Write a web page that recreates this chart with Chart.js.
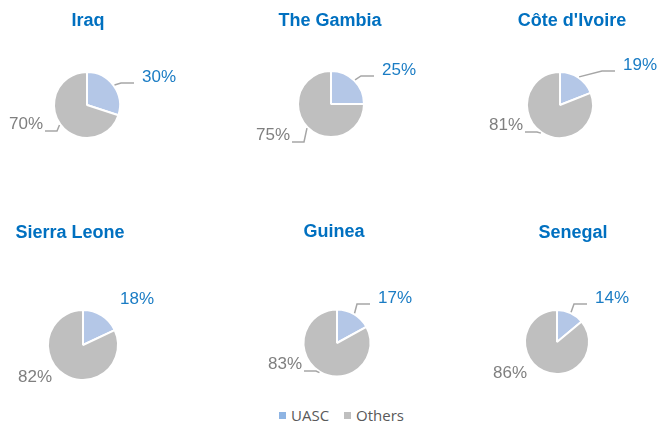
<!DOCTYPE html>
<html>
<head>
<meta charset="utf-8">
<script src="https://cdn.jsdelivr.net/npm/chart.js@4.4.0/dist/chart.umd.min.js"></script>
<style>
  html, body { margin: 0; padding: 0; background: #fff; }
  #page { position: relative; width: 659px; height: 422px; overflow: hidden; background: #fff; }
  #page canvas { position: absolute; }
  #legend { position: absolute; left: 279px; top: 405px; display: flex; align-items: center;
    font-family: "Open Sans", sans-serif; font-size: 15px; color: #595959; }
  #legend span.box { display: inline-block; width: 7px; height: 7px; margin-right: 5px; }
  #legend span.item { display: flex; align-items: center; margin-right: 15px; }
</style>
</head>
<body>
<div id="page">
  <div id="legend"></div>
</div>
<script>
// data
var countries = ['Iraq', 'The Gambia', "Côte d'Ivoire", 'Sierra Leone', 'Guinea', 'Senegal'];
var seriesNames = ['UASC', 'Others'];
var uascShare = [30, 25, 19, 18, 17, 14];
var othersShare = [70, 75, 81, 82, 83, 86];

// layout (page pixels)
var pieCenters = [[87, 105], [331, 104], [560, 105], [83, 345], [337, 343], [557, 342]];
var pieRadius = [32, 32, 32, 34, 32.5, 31];
var titlePos = [[88, 21], [330, 21], [572, 21], [70, 233], [334, 232], [573, 233]];
// label offsets from pie centre: [UASC (left edge), Others (right edge)]
var labelOffsets = [
	[[55, -28], [-44, 19]],
	[[51, -34], [-41, 31]],
	[[63, -40], [-37, 20]],
	[[37, -46], [-31, 32]],
	[[41, -45], [-35, 21]],
	[[38, -44], [-30, 31]]
];

var colors = ['#b4c7e7', '#bfbfbf'];
var labelColors = ['#1a7cc4', '#7f7f7f'];
var W = 240, H = 200;

var pieLabels = {
	id: 'pieLabels',
	afterDatasetsDraw: function(chart) {
		var ctx = chart.ctx;
		var opts = chart.options.plugins.pieLabels;
		var idx = opts.index;
		var meta = chart.getDatasetMeta(0);
		ctx.save();

		// chart title
		ctx.font = 'bold 18px "Liberation Sans", Arial, sans-serif';
		ctx.fillStyle = '#0070c0';
		ctx.textAlign = 'center';
		ctx.textBaseline = 'middle';
		ctx.fillText(opts.title, opts.titleX, opts.titleY);

		ctx.font = '17px "Liberation Sans", Arial, sans-serif';
		ctx.strokeStyle = '#a6a6a6';
		ctx.lineWidth = 1.5;
		meta.data.forEach(function(arc, i) {
			var p = arc.getProps(['x', 'y', 'startAngle', 'endAngle', 'outerRadius'], true);
			var mid = (p.startAngle + p.endAngle) / 2;
			var off = labelOffsets[idx][i];
			var lx = p.x + off[0], ly = p.y + off[1];
			var ax = p.x + Math.cos(mid) * (p.outerRadius + 1);
			var ay = p.y + Math.sin(mid) * (p.outerRadius + 1);
			var end, elbow, draw;
			if (i === 0) {
				end = [lx - 8, ly + 6];
				elbow = [end[0] - 13, end[1]];
				draw = elbow[0] > ax + 2;
			} else {
				end = [lx + 2, ly + 7];
				elbow = [end[0] + 12, end[1]];
				draw = elbow[0] < ax - 2;
			}
			if (draw) {
				ctx.beginPath();
				ctx.moveTo(ax, ay);
				ctx.lineTo(elbow[0], elbow[1]);
				ctx.lineTo(end[0], end[1]);
				ctx.stroke();
			}
			ctx.fillStyle = labelColors[i];
			ctx.textAlign = i === 0 ? 'left' : 'right';
			var v = chart.data.datasets[0].data[i];
			ctx.fillText(v + '%', lx, ly);
		});
		ctx.restore();
	}
};

var page = document.getElementById('page');

countries.forEach(function(name, k) {
	var cx = pieCenters[k][0], cy = pieCenters[k][1];
	var outerR = pieRadius[k] + 1;
	var left = cx - W / 2;
	var top = titlePos[k][1] - 21;
	var cyc = cy - top;
	var areaTop = cyc - outerR - 1;

	var canvas = document.createElement('canvas');
	canvas.width = W;
	canvas.height = H;
	canvas.style.left = left + 'px';
	canvas.style.top = top + 'px';
	canvas.style.width = W + 'px';
	canvas.style.height = H + 'px';
	page.appendChild(canvas);

	new Chart(canvas.getContext('2d'), {
		type: 'pie',
		data: {
			labels: seriesNames,
			datasets: [{
				data: [uascShare[k], othersShare[k]],
				backgroundColor: colors,
				borderColor: '#ffffff',
				borderWidth: 2,
				hoverOffset: 0
			}]
		},
		options: {
			responsive: false,
			animation: false,
			events: [],
			layout: {
				padding: { left: 0, right: 0, top: areaTop, bottom: H - (areaTop + 2 * outerR + 2) }
			},
			plugins: {
				legend: { display: false },
				tooltip: { enabled: false },
				title: { display: false },
				pieLabels: {
					index: k,
					title: name,
					titleX: titlePos[k][0] - left,
					titleY: titlePos[k][1] - top
				}
			}
		},
		plugins: [pieLabels]
	});
});

// legend
var legendColors = ['#8eb4e3', '#bfbfbf'];
var legend = document.getElementById('legend');
seriesNames.forEach(function(s, i) {
	var item = document.createElement('span');
	item.className = 'item';
	var box = document.createElement('span');
	box.className = 'box';
	box.style.background = legendColors[i];
	item.appendChild(box);
	item.appendChild(document.createTextNode(s));
	legend.appendChild(item);
});
</script>
</body>
</html>
